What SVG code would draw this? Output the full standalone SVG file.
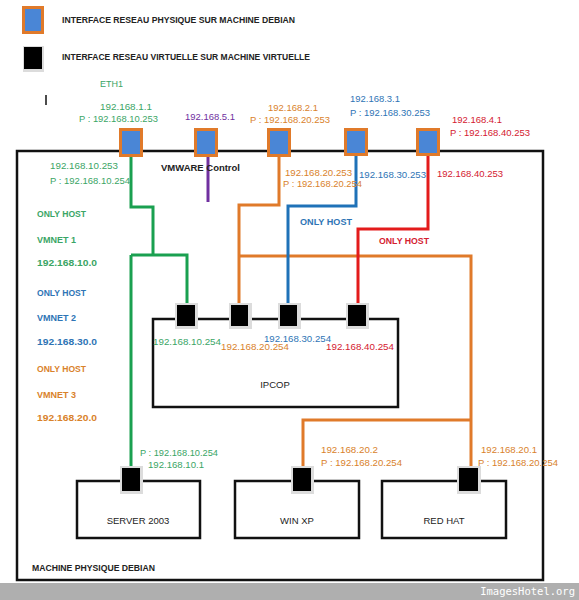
<svg xmlns="http://www.w3.org/2000/svg" width="579" height="600" viewBox="0 0 579 600">
<style>
text{font-family:"Liberation Sans",Arial,sans-serif;font-size:9.5px}
.b{font-weight:bold;fill:#222}
.g{fill:#3aa565}.o{fill:#d9822b}.bl{fill:#2e74b5}.r{fill:#d42030}.p{fill:#7030a0}
.box{fill:none;stroke:#111;stroke-width:2.5}
.ln{fill:none;stroke-width:3;stroke-linejoin:miter}
.phy{fill:#4a86d6;stroke:#e07a2a;stroke-width:3}
.vsh{fill:#dcdcdc}
.vif{fill:#000}
</style>
<rect width="579" height="600" fill="#fff"/>
<g id="legend">
<rect class="phy" x="23.5" y="7.5" width="19" height="25"/>
<text class="b" x="62" y="23" textLength="233" lengthAdjust="spacingAndGlyphs">INTERFACE RESEAU PHYSIQUE SUR MACHINE DEBIAN</text>
<rect class="vsh" x="23" y="46" width="21" height="26"/>
<rect class="vif" x="24" y="47" width="18" height="22"/>
<text class="b" x="62" y="60" textLength="248" lengthAdjust="spacingAndGlyphs">INTERFACE RESEAU VIRTUELLE SUR MACHINE VIRTUELLE</text>
<text class="g" x="100" y="87" textLength="23" lengthAdjust="spacingAndGlyphs">ETH1</text>
<line x1="46" y1="95" x2="46" y2="105" stroke="#111" stroke-width="1.5"/>
</g>
<g id="debian">
<rect class="box" x="17" y="151" width="526" height="429"/>
<text class="b" x="32" y="571" textLength="123" lengthAdjust="spacingAndGlyphs">MACHINE PHYSIQUE DEBIAN</text>
</g>
<g id="vmnet-labels">
<text class="b g" x="37" y="217" textLength="49" lengthAdjust="spacingAndGlyphs">ONLY HOST</text>
<text class="b g" x="37" y="243" textLength="39" lengthAdjust="spacingAndGlyphs">VMNET 1</text>
<text class="b g" x="37" y="266" textLength="60" lengthAdjust="spacingAndGlyphs">192.168.10.0</text>
<text class="b bl" x="37" y="296" textLength="49" lengthAdjust="spacingAndGlyphs">ONLY HOST</text>
<text class="b bl" x="37" y="321" textLength="39" lengthAdjust="spacingAndGlyphs">VMNET 2</text>
<text class="b bl" x="37" y="345" textLength="60" lengthAdjust="spacingAndGlyphs">192.168.30.0</text>
<text class="b o" x="37" y="372" textLength="49" lengthAdjust="spacingAndGlyphs">ONLY HOST</text>
<text class="b o" x="37" y="398" textLength="39" lengthAdjust="spacingAndGlyphs">VMNET 3</text>
<text class="b o" x="37" y="421" textLength="60" lengthAdjust="spacingAndGlyphs">192.168.20.0</text>
</g>
<g id="ipcop">
<rect class="box" x="153" y="319" width="245" height="88"/>
<text x="275" y="388" text-anchor="middle" fill="#222" font-size="10">IPCOP</text>
</g>
<g id="server2003">
<rect class="box" x="77" y="481" width="123" height="57"/>
<text x="138" y="524" text-anchor="middle" fill="#222" font-size="10">SERVER  2003</text>
</g>
<g id="winxp">
<rect class="box" x="235" y="481" width="124" height="57"/>
<text x="297" y="524" text-anchor="middle" fill="#222" font-size="10">WIN XP</text>
</g>
<g id="redhat">
<rect class="box" x="382" y="481" width="124" height="57"/>
<text x="444" y="524" text-anchor="middle" fill="#222" font-size="10">RED HAT</text>
</g>
<g id="connectors">
<path class="ln" stroke="#1aa050" d="M131,157 V207 H153 V255 M131,255 H187 V305 M131,255 V468"/>
<path class="ln" stroke="#7030a0" d="M208,157 V202"/>
<path class="ln" stroke="#e07a2a" d="M279,155 V205 H239 V305 M239,256 H471 V468 M303,468 V420 H471"/>
<path class="ln" stroke="#1f72b8" d="M356,155 V206 H288 V305"/>
<path class="ln" stroke="#e31b1b" d="M428,155 V229 H358 V305"/>
<text class="b bl" x="300" y="225" textLength="52" lengthAdjust="spacingAndGlyphs">ONLY HOST</text>
<text class="b r" x="379" y="244" textLength="50" lengthAdjust="spacingAndGlyphs">ONLY HOST</text>
</g>
<g id="eth-phys">
<rect class="phy" x="120.5" y="129.5" width="21" height="26"/>
<rect class="phy" x="195.5" y="129.5" width="21" height="26"/>
<rect class="phy" x="268.5" y="129.5" width="21" height="26"/>
<rect class="phy" x="345.5" y="129.5" width="21" height="25"/>
<rect class="phy" x="417.5" y="129.5" width="21" height="25"/>
<text class="g" x="126" y="110" text-anchor="middle" textLength="52" lengthAdjust="spacingAndGlyphs">192.168.1.1</text>
<text class="g" x="79" y="122" textLength="79" lengthAdjust="spacingAndGlyphs">P : 192.168.10.253</text>
<text class="p" x="185" y="120" textLength="50" lengthAdjust="spacingAndGlyphs">192.168.5.1</text>
<text class="o" x="268" y="111" textLength="50" lengthAdjust="spacingAndGlyphs">192.168.2.1</text>
<text class="o" x="250" y="123" textLength="80" lengthAdjust="spacingAndGlyphs">P : 192.168.20.253</text>
<text class="bl" x="350" y="102" textLength="50" lengthAdjust="spacingAndGlyphs">192.168.3.1</text>
<text class="bl" x="350" y="116" textLength="80" lengthAdjust="spacingAndGlyphs">P : 192.168.30.253</text>
<text class="r" x="452" y="123" textLength="50" lengthAdjust="spacingAndGlyphs">192.168.4.1</text>
<text class="r" x="450" y="136" textLength="80" lengthAdjust="spacingAndGlyphs">P : 192.168.40.253</text>
<text class="g" x="50" y="169" textLength="68" lengthAdjust="spacingAndGlyphs">192.168.10.253</text>
<text class="g" x="50" y="184" textLength="80" lengthAdjust="spacingAndGlyphs">P : 192.168.10.254</text>
<text class="b" x="161" y="171" textLength="79" lengthAdjust="spacingAndGlyphs">VMWARE  Control</text>
<text class="o" x="285" y="176" textLength="67" lengthAdjust="spacingAndGlyphs">192.168.20.253</text>
<text class="o" x="283" y="187" textLength="79" lengthAdjust="spacingAndGlyphs">P : 192.168.20.254</text>
<text class="bl" x="359" y="178" textLength="67" lengthAdjust="spacingAndGlyphs">192.168.30.253</text>
<text class="r" x="437" y="177" textLength="66" lengthAdjust="spacingAndGlyphs">192.168.40.253</text>
</g>
<g id="eth-ipcop">
<rect class="vsh" x="175" y="303" width="23" height="26"/><rect class="vif" x="177" y="305" width="18" height="21"/>
<rect class="vsh" x="229" y="303" width="23" height="26"/><rect class="vif" x="231" y="305" width="17" height="21"/>
<rect class="vsh" x="278" y="303" width="23" height="26"/><rect class="vif" x="280" y="305" width="17" height="21"/>
<rect class="vsh" x="346" y="303" width="23" height="26"/><rect class="vif" x="348" y="305" width="18" height="21"/>
<text class="g" x="153" y="345" textLength="68" lengthAdjust="spacingAndGlyphs">192.168.10.254</text>
<text class="o" x="221" y="350" textLength="68" lengthAdjust="spacingAndGlyphs">192.168.20.254</text>
<text class="bl" x="264" y="342" textLength="67" lengthAdjust="spacingAndGlyphs">192.168.30.254</text>
<text class="r" x="326" y="350" textLength="68" lengthAdjust="spacingAndGlyphs">192.168.40.254</text>
</g>
<g id="eth-vms">
<rect class="vsh" x="120" y="466" width="23" height="28"/><rect class="vif" x="122" y="468" width="18" height="23"/>
<rect class="vsh" x="291" y="466" width="23" height="28"/><rect class="vif" x="293" y="468" width="18" height="23"/>
<rect class="vsh" x="457" y="466" width="24" height="28"/><rect class="vif" x="459" y="468" width="19" height="23"/>
<text class="g" x="140" y="456" textLength="78" lengthAdjust="spacingAndGlyphs">P : 192.168.10.254</text>
<text class="g" x="148" y="468" textLength="56" lengthAdjust="spacingAndGlyphs">192.168.10.1</text>
<text class="o" x="321" y="453" textLength="57" lengthAdjust="spacingAndGlyphs">192.168.20.2</text>
<text class="o" x="321" y="466" textLength="81" lengthAdjust="spacingAndGlyphs">P : 192.168.20.254</text>
<text class="o" x="481" y="453" textLength="56" lengthAdjust="spacingAndGlyphs">192.168.20.1</text>
<text class="o" x="478" y="466" textLength="80" lengthAdjust="spacingAndGlyphs">P : 192.168.20.254</text>
</g>
<g id="footer">
<rect x="0" y="583" width="579" height="17" fill="#afafaf"/>
<text x="575" y="595" text-anchor="end" fill="#fff" style="font-family:'DejaVu Sans Mono','Liberation Mono',monospace;font-size:10.5px">ImagesHotel.org</text>
</g>
</svg>
